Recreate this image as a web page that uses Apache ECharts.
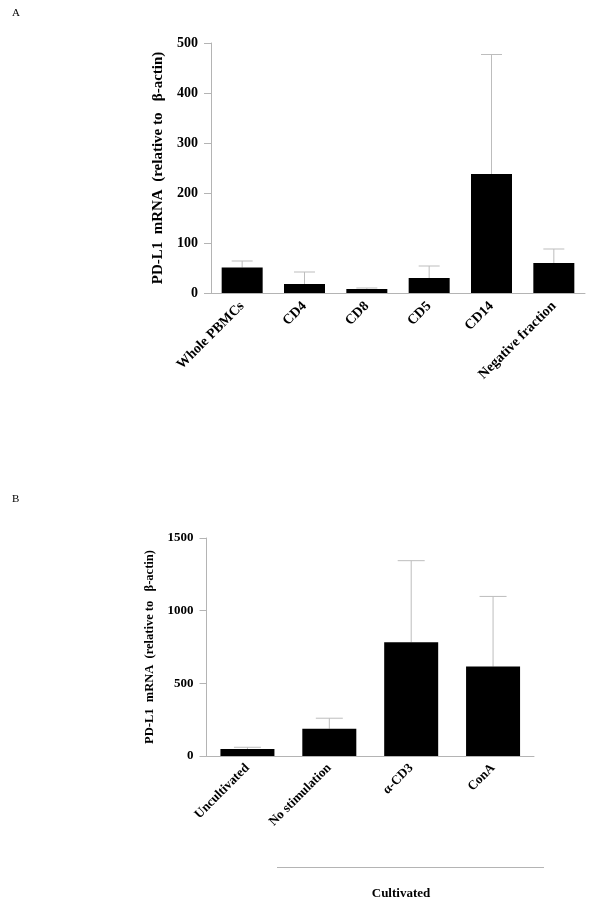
<!DOCTYPE html>
<html><head><meta charset="utf-8">
<script src="https://cdn.jsdelivr.net/npm/echarts@6/dist/echarts.min.js"></script>
<style>html,body{margin:0;padding:0;background:#fff}#c{width:600px;height:907px}</style>
</head><body><div id="c"></div>
<script>
const catsA = ['Whole PBMCs', 'CD4', 'CD8', 'CD5', 'CD14', 'Negative fraction'];
const valsA = [51, 18, 8, 30, 238, 60];
const sdA = [13, 24, 2, 24, 239, 28];
const ticksA = [0, 100, 200, 300, 400, 500];

const catsB = ['Uncultivated', 'No stimulation', 'α-CD3', 'ConA'];
const valsB = [48, 188, 783, 615];
const sdB = [12, 72, 561, 483];
const ticksB = [0, 500, 1000, 1500];

const yName = 'PD-L1  mRNA  (relative to   β-actin)';
const F = '"Liberation Serif", "Times New Roman", serif';
const axisGrey = '#b4b4b4';
const errGrey = '#bdbdbd';

const chart = echarts.init(document.getElementById('c'));

function errSeries(idx, vals, sd, capW) {
  return {
    type: 'custom', xAxisIndex: idx, yAxisIndex: idx, z: 1,
    data: vals.map((v, i) => [i, v, v + sd[i]]),
    renderItem: function (params, api) {
      const x = api.value(0);
      const p0 = api.coord([x, api.value(1)]);
      const p1 = api.coord([x, api.value(2)]);
      const st = { stroke: errGrey, lineWidth: 1 };
      return { type: 'group', children: [
        { type: 'line', shape: { x1: p0[0], y1: p0[1], x2: p1[0], y2: p1[1] }, style: st },
        { type: 'line', shape: { x1: p1[0] - capW / 2, y1: p1[1], x2: p1[0] + capW / 2, y2: p1[1] }, style: st }
      ]};
    }
  };
}

function xAx(idx, cats, fs, margin) {
  return {
    type: 'category', gridIndex: idx, data: cats,
    axisLine: { lineStyle: { color: axisGrey, width: 1 } },
    axisTick: { alignWithLabel: true, length: 6, lineStyle: { color: axisGrey } },
    axisLabel: { rotate: 45, margin: margin, fontFamily: F, fontWeight: 'bold', fontSize: fs, color: '#000', interval: 0 }
  };
}
function yAx(idx, ticks, fs, nameFs, nameGap) {
  return {
    type: 'value', gridIndex: idx, min: ticks[0], max: ticks[ticks.length - 1],
    interval: ticks[1] - ticks[0],
    name: yName, nameLocation: 'middle', nameGap: nameGap, nameRotate: 90,
    nameTextStyle: { fontFamily: F, fontWeight: 'bold', fontSize: nameFs, color: '#000' },
    axisLine: { show: true, lineStyle: { color: axisGrey, width: 1 } },
    axisTick: { show: true, length: 7, lineStyle: { color: axisGrey } },
    splitLine: { show: false },
    axisLabel: { margin: 13, fontFamily: F, fontWeight: 'bold', fontSize: fs, color: '#000',
      formatter: function (v) { return String(v); } }
  };
}

chart.setOption({
  animation: false,
  backgroundColor: '#fff',
  grid: [
    { left: 211, top: 43, width: 374, height: 250 },
    { left: 206.5, top: 538, width: 327.5, height: 218 }
  ],
  xAxis: [xAx(0, catsA, 14, 11), xAx(1, catsB, 13, 10)],
  yAxis: [yAx(0, ticksA, 14, 15, 45), yAx(1, ticksB, 13, 12.5, 48)],
  series: [
    errSeries(0, valsA, sdA, 21),
    { type: 'bar', xAxisIndex: 0, yAxisIndex: 0, data: valsA, barWidth: 41, z: 2,
      itemStyle: { color: '#000' } },
    errSeries(1, valsB, sdB, 27),
    { type: 'bar', xAxisIndex: 1, yAxisIndex: 1, data: valsB, barWidth: 54, z: 2,
      itemStyle: { color: '#000' } }
  ],
  graphic: [
    { type: 'text', left: 12, top: 8, style: { text: 'A', font: '11px ' + F, fill: '#000' } },
    { type: 'text', left: 12, top: 494, style: { text: 'B', font: '11px ' + F, fill: '#000' } },
    { type: 'line', shape: { x1: 277, y1: 867.5, x2: 544, y2: 867.5 }, style: { stroke: axisGrey, lineWidth: 1 } },
    { type: 'text', x: 401, y: 894, style: { text: 'Cultivated', font: 'bold 13px ' + F, fill: '#000', textAlign: 'center', textVerticalAlign: 'middle' } }
  ]
});
</script></body></html>
